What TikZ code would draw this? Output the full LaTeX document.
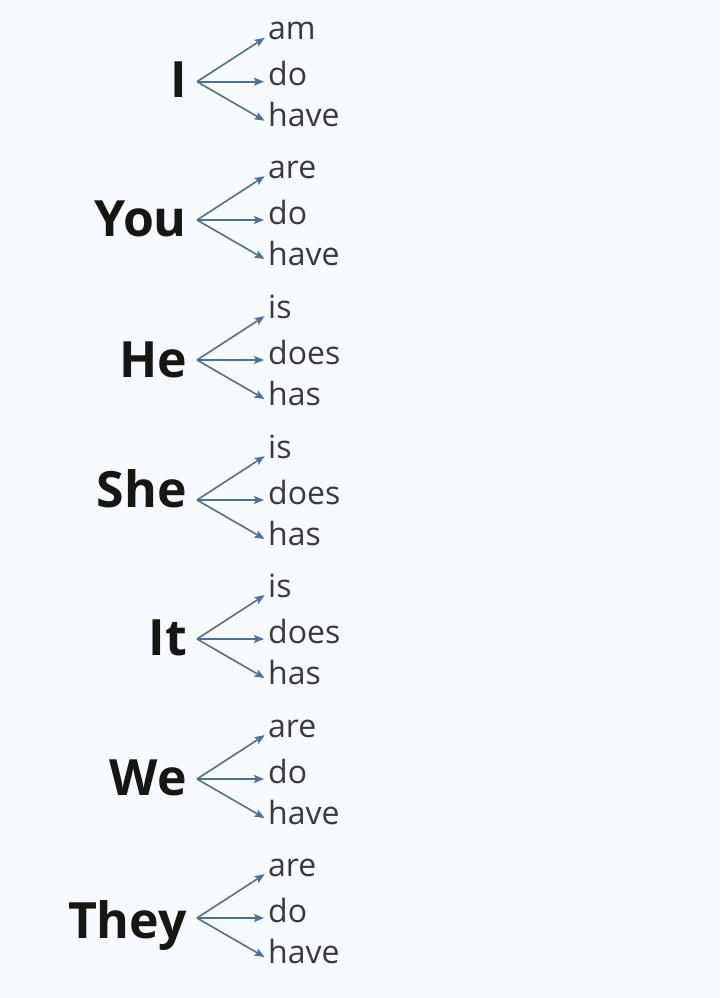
\documentclass[tikz,border=0pt]{standalone}
\usepackage{fontspec}
\setmainfont{Open Sans}
\usetikzlibrary{arrows.meta,positioning}

\definecolor{pagebg}{RGB}{246,249,253}
\definecolor{pronink}{RGB}{24,22,18}
\definecolor{verbink}{RGB}{58,58,58}
\definecolor{branchblue}{RGB}{84,112,140}

\begin{document}
\begin{tikzpicture}[x=1pt,y=-1pt,
            pron node/.style={anchor=base east,inner sep=0pt,text=pronink,
                font=\fontsize{50}{50}\selectfont\bfseries},
            verb node/.style={anchor=west,inner sep=0pt,text height=8pt,text depth=0pt,
                text=verbink,font=\fontsize{32}{32}\selectfont},
            branch/.style={-{Stealth[length=10pt,width=8pt,inset=2pt]},draw=branchblue,
                line width=1.6pt,shorten >=4pt}]

        % Page
        \fill[pagebg] (0,0) rectangle (720,998);
        \useasboundingbox (0,0) rectangle (720,998);

        % Define pronouns, verbs and branches
        \foreach \name/\pron/\oy/\by/\va/\vb/\vc in {
                i/I/81.7/97/am/do/have,
                you/You/220/236/are/do/have,
                he/He/360/377/is/does/has,
                she/She/500/507/is/does/has,
                it/It/639/655/is/does/has,
                we/We/779/795/are/do/have,
                they/They/918/938/are/do/have} {
            \coordinate (\name-o) at (197,\oy);
            \node[pron node] (\name) at (187,\by) {\pron};
            \node[verb node] (\name-a) at (268,\oy-46) {\va};
            \node[verb node] (\name-b) at (268,\oy) {\vb};
            \node[verb node] (\name-c) at (268,\oy+41) {\vc};

            \draw[branch] (\name-o) -- (\name-a.west);
            \draw[branch] (\name-o) -- (\name-b.west);
            \draw[branch] (\name-o) -- (\name-c.west);
        }

        \end{tikzpicture}
\end{document}
